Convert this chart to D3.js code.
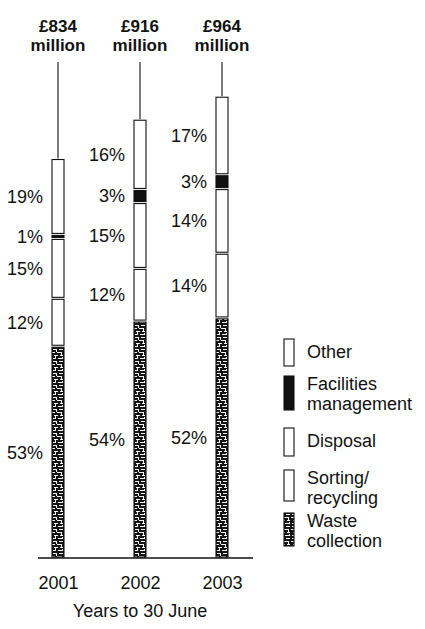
<!DOCTYPE html>
<html>
<head>
<meta charset="utf-8">
<script src="https://cdn.jsdelivr.net/npm/d3@7"></script>
<style>
  html, body { margin: 0; padding: 0; background: #fff; }
  svg { display: block; font-family: "Liberation Sans", Arial, Helvetica, sans-serif; }
</style>
</head>
<body>
<svg id="chart" width="425" height="629"></svg>
<script>
// Municipal waste services revenue, split by activity (years to 30 June)
const years = ["2001", "2002", "2003"];
const totals = [834, 916, 964];             // £ million
const totalLabels = ["£834", "£916", "£964"];
const categories = ["Waste collection", "Sorting/recycling", "Disposal", "Facilities management", "Other"];
const wasteCollection = [53, 54, 52];       // % of total
const sortingRecycling = [12, 12, 14];
const disposal = [15, 15, 14];
const facilitiesManagement = [1, 3, 3];
const other = [19, 16, 17];
const legendOrder = ["Other", "Facilities management", "Disposal", "Sorting/recycling", "Waste collection"];
const legendLines = {
  "Other": ["Other"],
  "Facilities management": ["Facilities", "management"],
  "Disposal": ["Disposal"],
  "Sorting/recycling": ["Sorting/", "recycling"],
  "Waste collection": ["Waste", "collection"]
};
const axisTitle = "Years to 30 June";

const shares = [wasteCollection, sortingRecycling, disposal, facilitiesManagement, other];

const svg = d3.select("#chart");
const ink = "#111";

const x = d3.scalePoint().domain(years).range([58, 222]);
const y = d3.scaleLinear().domain([0, 1000]).range([558, 79]);
const barW = 12;

// Dark mosaic texture used for the waste collection segments
const defs = svg.append("defs");
function mosaic(id, x0) {
  const p = defs.append("pattern")
    .attr("id", id)
    .attr("patternUnits", "userSpaceOnUse")
    .attr("x", x0).attr("y", 0)
    .attr("width", 12).attr("height", 12);
  p.append("rect").attr("width", 12).attr("height", 12).attr("fill", "#141414");
  const flecks = [
    [1, 1, 4, 1], [7, 1, 4, 1],
    [0, 4, 3, 1], [5, 4, 5, 1],
    [2, 7, 4, 1], [8, 7, 3, 1],
    [1, 10, 3, 1], [6, 10, 4, 1],
    [4, 2, 1, 2], [9, 5, 1, 2], [3, 8, 1, 2], [10, 9, 1, 2]
  ];
  flecks.forEach(d => p.append("rect")
    .attr("x", d[0]).attr("y", d[1]).attr("width", d[2]).attr("height", d[3])
    .attr("fill", "#f4f4f4"));
}
years.forEach((yr, i) => mosaic("mosaic-" + i, x(yr) - barW / 2));
mosaic("mosaic-legend", 283);

function fillFor(cat, i) {
  if (cat === "Waste collection") return "url(#mosaic-" + i + ")";
  if (cat === "Facilities management") return ink;
  return "#fff";
}

// Stacked segments
years.forEach((yr, i) => {
  const g = svg.append("g");
  const left = x(yr) - barW / 2;
  let cum = 0;
  categories.forEach((cat, k) => {
    const pct = shares[k][i];
    const v0 = totals[i] * cum / 100;
    const v1 = totals[i] * (cum + pct) / 100;
    cum += pct;
    const yTop = y(v1) + 1, yBot = y(v0) - 1;
    g.append("rect")
      .attr("x", left).attr("y", yTop)
      .attr("width", barW).attr("height", Math.max(1, yBot - yTop))
      .attr("fill", fillFor(cat, i))
      .attr("stroke", ink).attr("stroke-width", 1.1);
    g.append("text")
      .attr("x", left - 9)
      .attr("y", (y(v0) + y(v1)) / 2)
      .attr("dy", "0.36em")
      .attr("text-anchor", "end")
      .attr("font-size", 18)
      .attr("fill", ink)
      .text(pct + "%");
  });

  // Total labels with leader line
  svg.append("line")
    .attr("x1", x(yr)).attr("x2", x(yr))
    .attr("y1", 62).attr("y2", y(totals[i]))
    .attr("stroke", ink).attr("stroke-width", 1.1);
  const t = svg.append("text")
    .attr("x", x(yr)).attr("text-anchor", "middle")
    .attr("font-size", 17).attr("font-weight", "bold").attr("fill", ink);
  t.append("tspan").attr("x", x(yr)).attr("y", 32).text(totalLabels[i]);
  t.append("tspan").attr("x", x(yr)).attr("y", 51).text("million");
});

// Baseline and year axis
svg.append("line")
  .attr("x1", 38).attr("x2", 253)
  .attr("y1", y(0)).attr("y2", y(0))
  .attr("stroke", ink).attr("stroke-width", 1.4);

const axis = d3.axisBottom(x).tickSize(0).tickPadding(12);
const ax = svg.append("g").attr("transform", `translate(0,${y(0) + 6})`).call(axis);
ax.select(".domain").remove();
ax.selectAll("text").attr("font-size", 18).attr("fill", ink)
  .attr("font-family", "'Liberation Sans', Arial, Helvetica, sans-serif");

svg.append("text")
  .attr("x", 140).attr("y", 617)
  .attr("text-anchor", "middle").attr("font-size", 18).attr("fill", ink)
  .text(axisTitle);

// Legend
const legendTop = [339, 376, 428, 470, 513];
const legendH = [27, 34, 28, 31, 33];
legendOrder.forEach((cat, j) => {
  const g = svg.append("g").attr("transform", `translate(284,${legendTop[j]})`);
  g.append("rect")
    .attr("x", 0).attr("y", 0).attr("width", 10).attr("height", legendH[j])
    .attr("fill", cat === "Waste collection" ? "url(#mosaic-legend)" : fillFor(cat, 0))
    .attr("stroke", ink).attr("stroke-width", 1.1);
  const lines = legendLines[cat];
  lines.forEach((ln, m) => {
    g.append("text")
      .attr("x", 23)
      .attr("y", lines.length === 1 ? 19 : 14 + m * 20)
      .attr("font-size", 18).attr("fill", ink)
      .text(ln);
  });
});
</script>
</body>
</html>
